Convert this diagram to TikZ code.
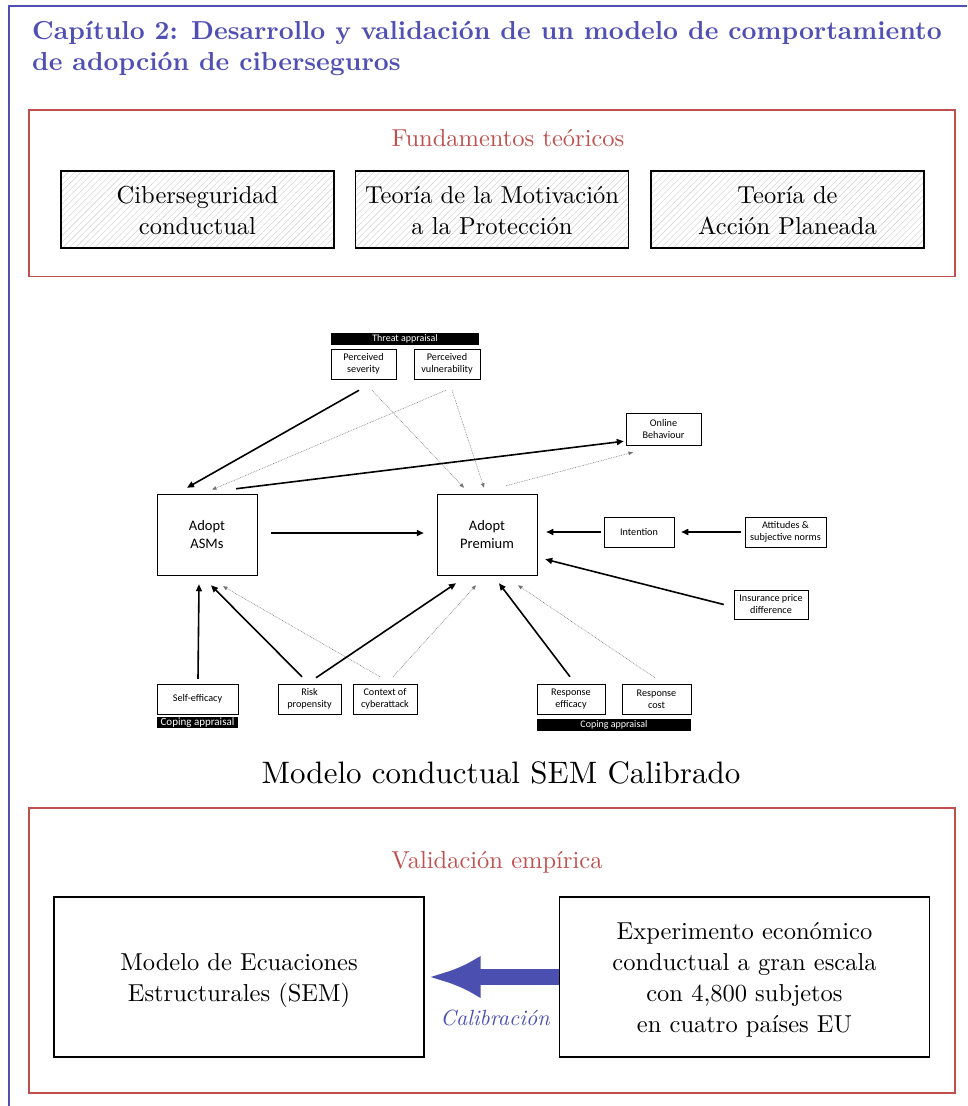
\documentclass[tikz,border=0pt]{standalone}
\usepackage{fontspec}
\usepackage{graphicx}
\newfontfamily\calib{Carlito}
\usetikzlibrary{arrows.meta,patterns.meta,calc}

\definecolor{hdblue}{RGB}{80,80,180}
\definecolor{hdred}{RGB}{192,80,77}
\definecolor{arblue}{RGB}{75,79,176}

% centred stack of lines, scaled up from 10pt (a little headroom drops the lines slightly)
\newcommand{\stack}[2][2.45]{\scalebox{#1}{\raisebox{0pt}[\dimexpr\height+2.4pt\relax][\depth]{\renewcommand{\arraystretch}{1.05}\begin{tabular}{@{}c@{}}#2\end{tabular}}}}

\begin{document}
\begin{tikzpicture}[x=1pt,y=-1pt,
  hatchbox/.style={draw=black, line width=1.1pt, minimum width=273pt, minimum height=77pt,
    inner sep=0pt, pattern={Lines[angle=45,distance=4.5pt,line width=0.4pt]}, pattern color=black!20},
  bigbox/.style={draw=black, line width=1.2pt, minimum width=370pt, minimum height=160pt, inner sep=0pt},
  sembox/.style={draw=black, line width=0.5pt, inner sep=0pt, align=center,
    font=\calib\fontsize{10.2}{12}\selectfont},
  sembig/.style={sembox, font=\calib\fontsize{14.5}{17.6}\selectfont, minimum width=100pt, minimum height=81pt},
  bar/.style={fill=black, text=white, inner sep=0pt, font=\calib\fontsize{10}{12}\selectfont},
  thk/.style={line width=1.6pt, -{Triangle[length=7pt,width=6pt]}},
  dot/.style={black!55, line width=0.5pt, dash pattern=on 0.8pt off 0.9pt, -{Triangle[length=4.5pt,width=3.6pt]}},
  calarrow/.style={arblue, line width=16pt, -{Latex[length=52pt,width=43pt]}},
]
\useasboundingbox (0,0) rectangle (967,1106);

% page frame
\draw[hdblue, line width=1.2pt] (9,1106) -- (9,6) -- (967,6);

% chapter heading
\node[anchor=base west, inner sep=0pt, text=hdblue] (t1) at (32,39.5)
  {\scalebox{2.6}{\bfseries Capítulo 2: Desarrollo y validación de un modelo de comportamiento}};
\node[anchor=base west, inner sep=0pt, text=hdblue] (t2) at (32,70)
  {\scalebox{2.6}{\bfseries de adopción de ciberseguros}};

% theoretical foundations
\draw[hdred, line width=1.3pt] (29,110) rectangle (955,276.5);
\node[anchor=base, inner sep=0pt, text=hdred] (fund) at (508,146) {\scalebox{2.45}{Fundamentos teóricos}};
\node[hatchbox] (b1) at (197.5,209.5) {\stack{Ciberseguridad\\conductual}};
\node[hatchbox] (b2) at (492,209.5) {\stack{Teoría de la Motivación\\a la Protección}};
\node[hatchbox] (b3) at (787.5,209.5) {\stack{Teoría de\\Acción Planeada}};

% SEM behavioural model
\node[bar, minimum width=148pt, minimum height=12pt] (thr) at (405,339) {Threat appraisal};
\node[sembox, minimum width=65pt, minimum height=30pt] (sev) at (363.5,364) {Perceived\\severity};
\node[sembox, minimum width=66pt, minimum height=30pt] (vul) at (447,364) {Perceived\\vulnerability};
\node[sembox, minimum width=75pt, minimum height=32pt] (onl) at (663.5,429) {Online\\Behaviour};
\node[sembig] (asm) at (207,534.5) {Adopt\\ASMs};
\node[sembig] (prem) at (487,534.5) {Adopt\\Premium};
\node[sembox, minimum width=70pt, minimum height=30pt] (intn) at (639,532) {Intention};
\node[sembox, minimum width=81pt, minimum height=30pt] (att) at (785.5,532) {Attitudes \&\\subjective norms};
\node[sembox, minimum width=74pt, minimum height=29pt] (ins) at (771,604.5) {Insurance price\\difference};
\node[sembox, minimum width=81pt, minimum height=30pt] (self) at (197.5,699) {Self-efficacy};
\node[bar, minimum width=81pt, text height=7.8pt, text depth=2.6pt,
  font=\calib\fontsize{11}{12}\selectfont] (cope1) at (197.5,722.5) {Coping appraisal};
\node[sembox, minimum width=63pt, minimum height=30pt] (risk) at (309.5,699) {Risk\\propensity};
\node[sembox, minimum width=64pt, minimum height=30pt] (ctx) at (385,699) {Context of\\cyberattack};
\node[sembox, minimum width=68pt, minimum height=30pt] (reff) at (571,699) {Response\\efficacy};
\node[sembox, minimum width=69pt, minimum height=30pt] (rcost) at (656.5,699) {Response\\cost};
\node[bar, minimum width=154pt, minimum height=12pt] (cope2) at (614,725) {Coping appraisal};

% paths of the model
\draw[thk] ($(sev.south)+(-4.5,11)$) -- ($(asm.north)+(-20,-6)$);
\draw[dot] ($(vul.south)+(-1,11)$) -- ($(asm.north)+(5,-4)$);
\draw[dot] ($(sev.south)+(8.5,11)$) -- ($(prem.north)+(-23,-6)$);
\draw[dot] ($(vul.south)+(5,11)$) -- ($(prem.north)+(-3,-6)$);
\draw[thk] ($(asm.north)+(29,-5)$) -- ($(onl.south west)+(-2,-4)$);
\draw[dot] ($(prem.north)+(19,-8)$) -- ($(onl.south)+(-30.5,7)$);
\draw[thk] ($(asm.east)+(14,-1.5)$) -- ($(prem.west)+(-13,-1.5)$);
\draw[thk] ($(intn.west)+(-3,0)$) -- ($(prem.east)+(9,-2.5)$);
\draw[thk] ($(att.west)+(-4,0)$) -- ($(intn.east)+(7,0)$);
\draw[thk] ($(ins.west)+(-10,0)$) -- ($(prem.south east)+(8,-16)$);
\draw[thk] ($(self.north)+(0.5,-5)$) -- ($(asm.south)+(-8,9)$);
\draw[thk] ($(risk.north)+(-7.5,-7)$) -- ($(asm.south)+(4,10)$);
\draw[dot] ($(ctx.north)+(-5,-7)$) -- ($(asm.south)+(16,11)$);
\draw[thk] ($(risk.north)+(6.5,-6)$) -- ($(prem.south)+(-31,8)$);
\draw[dot] ($(ctx.north)+(8,-7)$) -- ($(prem.south)+(-11,10)$);
\draw[thk] ($(reff.north)+(-1,-7)$) -- ($(prem.south)+(12,8)$);
\draw[dot] ($(rcost.north)+(-1.5,-6)$) -- ($(prem.south)+(31,10)$);

\node[anchor=base, inner sep=0pt] (cap) at (501,783) {\scalebox{3.1}{Modelo conductual SEM Calibrado}};

% empirical validation
\draw[hdred, line width=1.3pt] (29,808) rectangle (955,1093);
\node[anchor=base, inner sep=0pt, text=hdred] (val) at (497,868) {\scalebox{2.45}{Validación empírica}};
\node[bigbox] (sem) at (239,977) {\stack{Modelo de Ecuaciones\\Estructurales (SEM)}};
\node[bigbox] (exp) at (744.5,977) {\stack{Experimento económico\\conductual a gran escala\\con 4,800 subjetos\\en cuatro países EU}};
\draw[calarrow] (exp.west) -- ($(sem.east)+(4,0)$);
\node[anchor=base, inner sep=0pt, text=arblue] (cal) at (495,1025) {\scalebox{2.2}{\itshape Calibración}};
\end{tikzpicture}
\end{document}
